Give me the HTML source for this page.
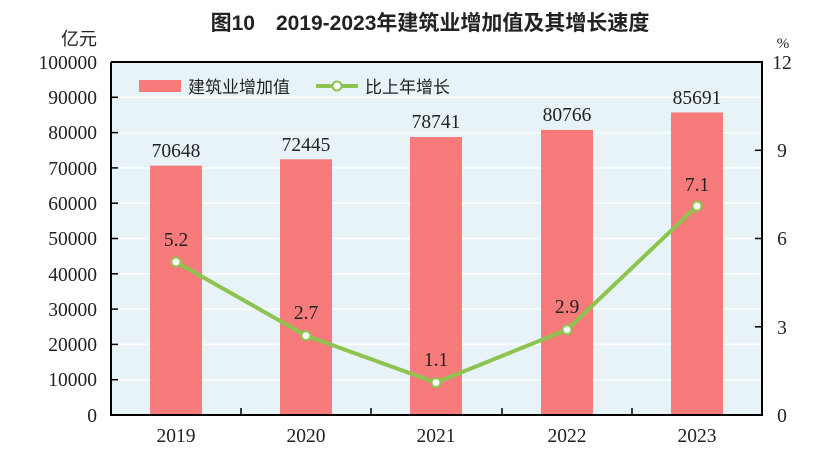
<!DOCTYPE html>
<html><head><meta charset="utf-8"><style>
body{margin:0;background:#fff;}
svg text{font-family:"Liberation Serif","Noto Serif CJK SC",serif;fill:#222;}
</style></head><body>
<svg width="830" height="464" viewBox="0 0 830 464" xmlns="http://www.w3.org/2000/svg">
<text x="430" y="30" text-anchor="middle" font-size="21" style="font-family:'Liberation Sans','Noto Sans CJK SC',sans-serif;font-weight:bold">图10　2019-2023年建筑业增加值及其增长速度</text>
<text x="97" y="45" text-anchor="end" font-size="18" style="font-family:'Noto Sans CJK SC',sans-serif">亿元</text>
<text x="783" y="48" text-anchor="middle" font-size="15">%</text>
<rect x="111" y="62" width="651" height="353" fill="#e8f3f7"/>
<g stroke="#fff" stroke-width="1.5">
<line x1="111" x2="762" y1="97.3" y2="97.3"/><line x1="111" x2="762" y1="132.6" y2="132.6"/><line x1="111" x2="762" y1="167.9" y2="167.9"/><line x1="111" x2="762" y1="203.2" y2="203.2"/><line x1="111" x2="762" y1="238.5" y2="238.5"/><line x1="111" x2="762" y1="273.8" y2="273.8"/><line x1="111" x2="762" y1="309.1" y2="309.1"/><line x1="111" x2="762" y1="344.4" y2="344.4"/><line x1="111" x2="762" y1="379.7" y2="379.7"/>
</g>
<g fill="#f77b7b">
<rect x="150" y="165.6" width="52" height="249.4"/>
<rect x="280" y="159.3" width="52" height="255.7"/>
<rect x="410" y="137.0" width="52" height="278"/>
<rect x="541" y="129.9" width="52" height="285.1"/>
<rect x="671" y="112.5" width="52" height="302.5"/>
</g>
<g stroke="#000" stroke-width="2" fill="none">
<polyline points="111,62 111,415 762,415 762,62 111,62"/>
</g>
<g stroke="#000" stroke-width="1.5">
<line x1="111" x2="118" y1="97.3" y2="97.3"/><line x1="111" x2="118" y1="132.6" y2="132.6"/><line x1="111" x2="118" y1="167.9" y2="167.9"/><line x1="111" x2="118" y1="203.2" y2="203.2"/><line x1="111" x2="118" y1="238.5" y2="238.5"/><line x1="111" x2="118" y1="273.8" y2="273.8"/><line x1="111" x2="118" y1="309.1" y2="309.1"/><line x1="111" x2="118" y1="344.4" y2="344.4"/><line x1="111" x2="118" y1="379.7" y2="379.7"/>
<line x1="755" x2="762" y1="150.3" y2="150.3"/><line x1="755" x2="762" y1="238.5" y2="238.5"/><line x1="755" x2="762" y1="326.8" y2="326.8"/>
<line x1="241" x2="241" y1="408" y2="415"/><line x1="371" x2="371" y1="408" y2="415"/><line x1="502" x2="502" y1="408" y2="415"/><line x1="632" x2="632" y1="408" y2="415"/>
</g>
<g font-size="19.5" text-anchor="end">
<text x="97" y="69">100000</text><text x="97" y="104">90000</text><text x="97" y="139">80000</text><text x="97" y="175">70000</text><text x="97" y="210">60000</text><text x="97" y="245">50000</text><text x="97" y="281">40000</text><text x="97" y="316">30000</text><text x="97" y="351">20000</text><text x="97" y="386">10000</text><text x="97" y="422">0</text>
</g>
<g font-size="19.5" text-anchor="middle">
<text x="782" y="69">12</text><text x="782" y="157">9</text><text x="782" y="245">6</text><text x="782" y="334">3</text><text x="782" y="422">0</text>
<text x="176" y="442">2019</text><text x="306" y="442">2020</text><text x="436" y="442">2021</text><text x="567" y="442">2022</text><text x="697" y="442">2023</text>
<text x="176" y="157">70648</text><text x="306" y="151">72445</text><text x="436" y="128">78741</text><text x="567" y="121">80766</text><text x="697" y="104">85691</text>
<text x="176" y="246">5.2</text><text x="306" y="319">2.7</text><text x="436" y="366">1.1</text><text x="567" y="313">2.9</text><text x="697" y="191">7.1</text>
</g>
<polyline points="176,262 306,335.6 436,382.6 567,329.7 697,206.1" fill="none" stroke="#8dc44f" stroke-width="4"/>
<g fill="#fff" stroke="#8dc44f" stroke-width="2">
<circle cx="176" cy="262" r="4.5"/><circle cx="306" cy="335.6" r="4.5"/><circle cx="436" cy="382.6" r="4.5"/><circle cx="567" cy="329.7" r="4.5"/><circle cx="697" cy="206.1" r="4.5"/>
</g>
<rect x="139" y="80" width="42" height="12" fill="#f77b7b"/>
<text x="188" y="93" font-size="17" style="font-family:'Noto Sans CJK SC',sans-serif">建筑业增加值</text>
<line x1="316" x2="358" y1="86" y2="86" stroke="#8dc44f" stroke-width="4"/>
<circle cx="337" cy="86" r="4.5" fill="#fff" stroke="#8dc44f" stroke-width="2"/>
<text x="365" y="93" font-size="17" style="font-family:'Noto Sans CJK SC',sans-serif">比上年增长</text>
</svg>
</body></html>
